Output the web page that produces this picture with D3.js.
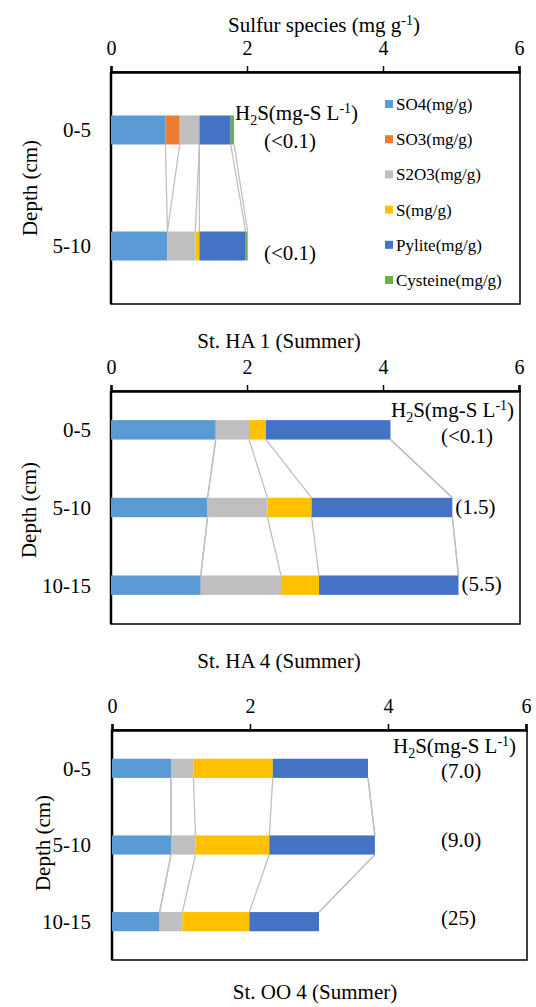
<!DOCTYPE html>
<html>
<head>
<meta charset="utf-8">
<script src="https://cdn.jsdelivr.net/npm/d3@7"></script>
<style>
body { margin: 0; background: #fff; }
svg text { font-family: "Liberation Serif", Tinos, Times, "DejaVu Serif", serif; fill: #000; }
</style>
</head>
<body>
<div id="chart"></div>
<script>
// species and colours (Excel default palette)
const species = ["SO4(mg/g)", "SO3(mg/g)", "S2O3(mg/g)", "S(mg/g)", "Pylite(mg/g)", "Cysteine(mg/g)"];
const colors = ["#5b9bd5", "#ed7d31", "#bfbfbf", "#ffc000", "#4472c4", "#70ad47"];
const xTicks = [0, 2, 4, 6];

// St. HA 1
const ha1Depths = ["0-5", "5-10"];
const ha1Values = [
    [0.80, 0.21, 0.29, 0, 0.46, 0.05],
    [0.83, 0, 0.41, 0.06, 0.68, 0.03]
];
const ha1H2S = ["(<0.1)", "(<0.1)"];

// St. HA 4
const ha4Depths = ["0-5", "5-10", "10-15"];
const ha4Values = [
    [1.54, 0, 0.49, 0.25, 1.83, 0],
    [1.42, 0, 0.88, 0.65, 2.07, 0],
    [1.32, 0, 1.18, 0.56, 2.05, 0]
];
const ha4H2S = ["(<0.1)", "(1.5)", "(5.5)"];

// St. OO 4
const oo4Depths = ["0-5", "5-10", "10-15"];
const oo4Values = [
    [0.855, 0, 0.325, 1.15, 1.38, 0],
    [0.855, 0, 0.355, 1.07, 1.53, 0],
    [0.69, 0, 0.33, 0.97, 1.01, 0]
];
const oo4H2S = ["(7.0)", "(9.0)", "(25)"];

const width = 536, height = 1007;
const serif = "'Liberation Serif', Tinos, Times, 'DejaVu Serif', serif";
const fs = 21;

let svg = d3.select("#chart")
    .append("svg")
    .attr("width", width)
    .attr("height", height)
    .attr("font-family", serif);

function drawPanel(p) {
    let x = d3.scaleLinear().domain([0, 6]).range([p.left, p.axisRight]);
    let y = d3.scaleBand()
        .domain(p.depths)
        .range([p.top, p.bottom])
        .paddingInner(0.75)
        .paddingOuter(0.375);
    let bw = y.bandwidth();

    let table = p.depths.map((d, i) => {
        let o = { depth: d };
        species.forEach((s, k) => o[s] = p.values[i][k]);
        return o;
    });
    let stacked = d3.stack().keys(species)(table);

    let g = svg.append("g");

    // frame
    g.append("rect")
        .attr("x", p.left).attr("y", p.top)
        .attr("width", p.right - p.left).attr("height", p.bottom - p.top)
        .attr("fill", "none").attr("stroke", "#000").attr("stroke-width", 1.5);
    g.append("line")
        .attr("x1", p.left).attr("x2", p.left)
        .attr("y1", p.top).attr("y2", p.bottom)
        .attr("stroke", "#000").attr("stroke-width", 2.5);

    // series lines between the bars
    stacked.forEach(layer => {
        for (let i = 0; i < layer.length - 1; i++) {
            g.append("line")
                .attr("x1", x(layer[i][1]))
                .attr("y1", y(p.depths[i]) + bw)
                .attr("x2", x(layer[i + 1][1]))
                .attr("y2", y(p.depths[i + 1]))
                .attr("stroke", "#bfbfbf")
                .attr("stroke-width", 1.3);
        }
    });

    // bars
    g.selectAll(".layer")
        .data(stacked)
        .join("g")
        .attr("fill", (d, i) => colors[i])
        .selectAll("rect")
        .data(d => d.filter(e => e[1] - e[0] > 0))
        .join("rect")
        .attr("x", d => x(d[0]))
        .attr("width", d => x(d[1]) - x(d[0]))
        .attr("y", d => y(d.data.depth))
        .attr("height", bw);

    // top axis
    let ax = g.append("g")
        .attr("transform", `translate(0,${p.top})`)
        .call(d3.axisTop(x).tickValues(xTicks).tickSize(6).tickPadding(11).tickFormat(d3.format("d")));
    ax.attr("font-family", serif);
    ax.select(".domain").attr("stroke-width", 2.5);
    ax.selectAll(".tick line").attr("stroke-width", 1.5);
    ax.selectAll("text").attr("font-size", 20);

    // depth labels
    g.selectAll(".depth")
        .data(p.depths)
        .join("text")
        .attr("x", 91)
        .attr("y", d => y(d) + bw / 2)
        .attr("dy", "0.35em")
        .attr("text-anchor", "end")
        .attr("font-size", fs)
        .text(d => d);

    g.append("text")
        .attr("transform", `translate(${p.depthTitle[0]},${p.depthTitle[1]}) rotate(-90)`)
        .attr("text-anchor", "middle")
        .attr("font-size", fs)
        .text("Depth (cm)");

    // H2S header
    let h = g.append("text")
        .attr("x", p.h2sX)
        .attr("y", y(p.depths[0]) + bw / 2 + p.h2sDy)
        .attr("font-size", fs);
    h.append("tspan").text("H");
    h.append("tspan").attr("dy", 5).attr("font-size", 14).text("2");
    h.append("tspan").attr("dy", -5).text("S(mg-S L");
    h.append("tspan").attr("dy", -7).attr("font-size", 14).text("-1");
    h.append("tspan").attr("dy", 7).text(")");

    // H2S values per depth
    g.selectAll(".h2s")
        .data(p.h2s)
        .join("text")
        .attr("x", (d, i) => Math.max(x(d3.sum(p.values[i])) + 3, p.labelMinX))
        .attr("y", (d, i) => y(p.depths[i]) + bw / 2 + p.labelDy[i])
        .attr("font-size", fs)
        .text(d => d);

    // panel title
    g.append("text")
        .attr("x", p.title[0])
        .attr("y", p.title[1])
        .attr("text-anchor", "middle")
        .attr("font-size", fs)
        .text(p.name);
}

drawPanel({
    name: "St. HA 1 (Summer)", depths: ha1Depths, values: ha1Values, h2s: ha1H2S,
    left: 111, axisRight: 519, right: 520, top: 72, bottom: 304,
    depthTitle: [37, 188], h2sX: 235, h2sDy: -10, labelMinX: 264, labelDy: [18, 14],
    title: [279, 348]
});
drawPanel({
    name: "St. HA 4 (Summer)", depths: ha4Depths, values: ha4Values, h2s: ha4H2S,
    left: 111, axisRight: 519, right: 520, top: 391, bottom: 624,
    depthTitle: [36, 510], h2sX: 391, h2sDy: -13, labelMinX: 441, labelDy: [13, 6, 6],
    title: [279, 668]
});
drawPanel({
    name: "St. OO 4 (Summer)", depths: oo4Depths, values: oo4Values, h2s: oo4H2S,
    left: 112, axisRight: 526, right: 527, top: 730, bottom: 960,
    depthTitle: [50, 843], h2sX: 393, h2sDy: -15, labelMinX: 441, labelDy: [10, 2, 3],
    title: [315, 999]
});

// title of the whole figure
let t = svg.append("text")
    .attr("x", 324).attr("y", 32)
    .attr("text-anchor", "middle")
    .attr("font-size", fs);
t.append("tspan").text("Sulfur species (mg g");
t.append("tspan").attr("dy", -7).attr("font-size", 14).text("-1");
t.append("tspan").attr("dy", 7).text(")");

// legend (top panel only)
let legend = svg.selectAll(".legend")
    .data(species)
    .join("g")
    .attr("transform", (d, i) => `translate(385,${104 + i * 35.2})`);
legend.append("rect")
    .attr("x", 0).attr("y", -4)
    .attr("width", 8).attr("height", 8)
    .attr("fill", (d, i) => colors[i]);
legend.append("text")
    .attr("x", 11)
    .attr("dy", "0.35em")
    .attr("font-size", 17)
    .text(d => d);
</script>
</body>
</html>
